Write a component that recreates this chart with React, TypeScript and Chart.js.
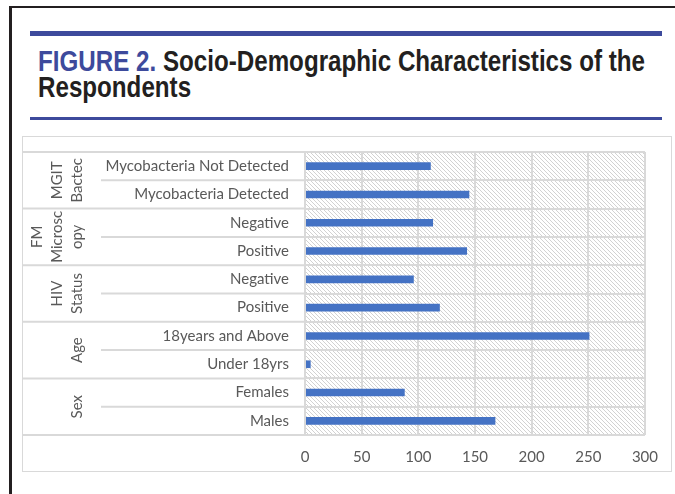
import React, { useEffect, useLayoutEffect, useRef } from "react";
import { Chart, registerables } from "chart.js";

Chart.register(...registerables);

// ---- data ----
const categories = [
  "Mycobacteria Not Detected",
  "Mycobacteria Detected",
  "Negative",
  "Positive",
  "Negative",
  "Positive",
  "18years and Above",
  "Under 18yrs",
  "Females",
  "Males",
];
const values = [111, 145, 113, 143, 96, 119, 251, 5, 88, 168];
const groupLabels = [["MGIT", "Bactec"], ["FM", "Microsc", "opy"], ["HIV", "Status"], ["Age"], ["Sex"]];
const groupSizes = [2, 2, 2, 2, 2];
const xMin = 0;
const xMax = 300;
const xStep = 50;

const titleLead = "FIGURE 2.";
const titleRest = " Socio-Demographic Characteristics of the";
const titleLine2 = "Respondents";

const FONT = "Lato, 'Open Sans', 'Liberation Sans', sans-serif";
const GRID = "#d9d9d9";
const TEXT = "#595959";

const hatchPlugin = {
  id: "hatch",
  beforeDraw(chart: any) {
    const { ctx, chartArea: a } = chart;
    const tile = document.createElement("canvas");
    tile.width = 4;
    tile.height = 4;
    const t = tile.getContext("2d")!;
    t.fillStyle = "#ffffff";
    t.fillRect(0, 0, 4, 4);
    t.fillStyle = "#d2d2d2";
    for (let i = 0; i < 4; i++) t.fillRect(i, i, 1, 1);
    const pat = ctx.createPattern(tile, "repeat");
    ctx.save();
    ctx.fillStyle = pat;
    ctx.fillRect(a.left, a.top, a.right - a.left, a.bottom - a.top);
    ctx.restore();
  },
};

const groupPlugin = {
  id: "groups",
  afterDraw(chart: any) {
    const { ctx, chartArea: a } = chart;
    const ys = chart.scales.y;
    const step = ys.getPixelForValue(1) - ys.getPixelForValue(0);
    const b = (k: number) => ys.getPixelForValue(0) - step / 2 + k * step;
    const line = (x0: number, y: number, x1: number) => {
      ctx.beginPath();
      ctx.moveTo(x0, y);
      ctx.lineTo(x1, y);
      ctx.stroke();
    };
    ctx.save();
    ctx.strokeStyle = GRID;
    ctx.lineWidth = 2;
    line(0, b(0), a.left);
    ctx.fillStyle = TEXT;
    ctx.font = `15px ${FONT}`;
    let idx = 0;
    groupSizes.forEach((size, g) => {
      for (let j = 1; j < size; j++) line(78, b(idx + j), a.left);
      line(0, b(idx + size), a.left);
      const cy = (b(idx) + b(idx + size)) / 2;
      const lines = groupLabels[g];
      lines.forEach((txt, li) => {
        const x = 54 - 20 * (lines.length - 1 - li);
        ctx.save();
        ctx.translate(x, cy);
        ctx.rotate(-Math.PI / 2);
        ctx.textAlign = "center";
        ctx.textBaseline = "middle";
        ctx.fillText(txt, 0, 0);
        ctx.restore();
      });
      idx += size;
    });
    ctx.restore();
  },
};

function ChartBox() {
  const ref = useRef<HTMLCanvasElement>(null);
  useEffect(() => {
    const chart = new Chart(ref.current!, {
      type: "bar",
      data: {
        labels: categories,
        datasets: [
          {
            data: values,
            backgroundColor: "#4472c4",
            barPercentage: 0.27,
            categoryPercentage: 1,
          },
        ],
      },
      options: {
        indexAxis: "y",
        animation: false,
        responsive: false,
        devicePixelRatio: 1,
        layout: { padding: { top: 15, right: 23, left: 0, bottom: 0 } },
        plugins: { legend: { display: false }, tooltip: { enabled: false } },
        scales: {
          x: {
            min: xMin,
            max: xMax,
            ticks: { stepSize: xStep, color: TEXT, font: { family: FONT, size: 15 }, padding: 13 },
            grid: { color: GRID, lineWidth: 2, drawTicks: false },
            border: { display: false },
            afterFit(s: any) {
              s.height = 36;
            },
          },
          y: {
            ticks: { color: TEXT, font: { family: FONT, size: 15 }, padding: 16 },
            grid: { color: GRID, lineWidth: 2, drawTicks: false, offset: true },
            border: { display: true, color: GRID, width: 2 },
            afterFit(s: any) {
              s.width = 282;
              s.paddingTop = 0;
              s.paddingBottom = 0;
            },
          },
        },
      } as any,
      plugins: [hatchPlugin, groupPlugin],
    });
    return () => chart.destroy();
  }, []);
  return <canvas ref={ref} width={648} height={334} style={{ display: "block", width: 648, height: 334 }} />;
}

export default function App() {
  const l1 = useRef<HTMLSpanElement>(null);
  const l2 = useRef<HTMLSpanElement>(null);
  useLayoutEffect(() => {
    document.body.style.margin = "0";
    if (l1.current && l2.current) {
      const w = l1.current.getBoundingClientRect().width;
      const s = 607 / w;
      l1.current.style.transform = `scaleX(${s})`;
      l2.current.style.transform = `scaleX(${s})`;
    }
  }, []);
  const titleStyle: React.CSSProperties = {
    position: "absolute",
    left: 38,
    fontFamily: "'Liberation Sans Narrow', 'Liberation Sans', Arial, sans-serif",
    fontWeight: "bold",
    fontSize: 29,
    lineHeight: "26px",
    whiteSpace: "nowrap",
    color: "#231f20",
  };
  return (
    <div style={{ position: "relative", width: 675, height: 494, overflow: "hidden", background: "#fff" }}>
      <div
        style={{
          position: "absolute",
          left: 9,
          top: 6,
          width: 700,
          height: 520,
          borderLeft: "3px solid #231f20",
          borderTop: "2px solid #231f20",
          boxSizing: "border-box",
        }}
      />
      <div style={{ position: "absolute", left: 30, top: 31, width: 632, height: 4.5, background: "#3d4a9c" }} />
      <div style={{ ...titleStyle, top: 48 }}>
        <span ref={l1} style={{ display: "inline-block", transformOrigin: "left center" }}>
          <span style={{ color: "#3d4a9c" }}>{titleLead}</span>
          {titleRest}
        </span>
      </div>
      <div style={{ ...titleStyle, top: 74 }}>
        <span ref={l2} style={{ display: "inline-block", transformOrigin: "left center" }}>
          {titleLine2}
        </span>
      </div>
      <div style={{ position: "absolute", left: 30, top: 117, width: 632, height: 2.5, background: "#3d4a9c" }} />
      <div
        style={{
          position: "absolute",
          left: 22,
          top: 136,
          width: 650,
          height: 336,
          border: `1px solid ${GRID}`,
          boxSizing: "border-box",
        }}
      />
      <div style={{ position: "absolute", left: 23, top: 137 }}>
        <ChartBox />
      </div>
    </div>
  );
}
